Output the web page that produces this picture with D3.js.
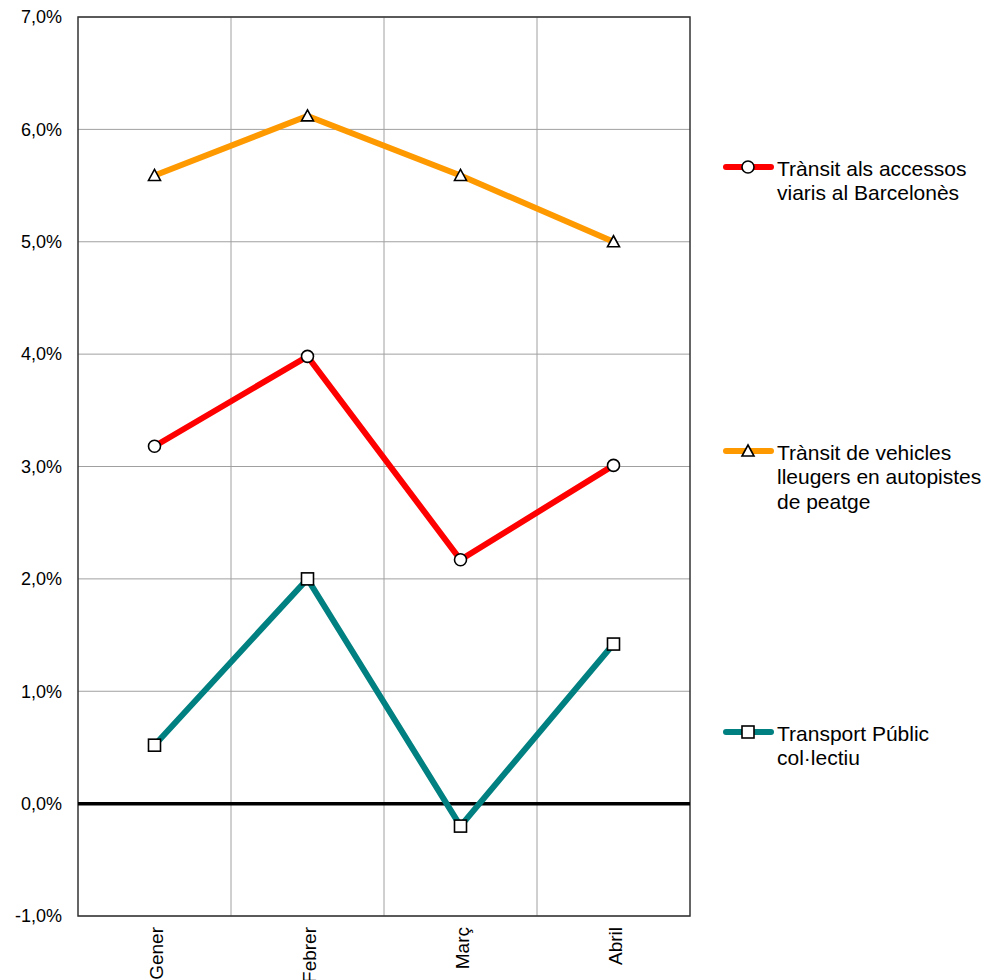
<!DOCTYPE html>
<html>
<head>
<meta charset="utf-8">
<script src="https://cdn.jsdelivr.net/npm/d3@7"></script>
<style>
  body { margin: 0; background: #fff; }
  svg { font-family: "Liberation Sans", Arial, sans-serif; }
</style>
</head>
<body>
<div id="chart"></div>
<script>
/* Variació mensual - trànsit i transport públic */

const months = ["Gener", "Febrer", "Març", "Abril"];
const accessos = [3.18, 3.98, 2.17, 3.01];
const autopistes = [5.59, 6.12, 5.59, 5.0];
const transport = [0.52, 2.0, -0.2, 1.42];
const yTicks = [-1, 0, 1, 2, 3, 4, 5, 6, 7];

const seriesNames = [
    ["Trànsit als accessos", "viaris al Barcelonès"],
    ["Trànsit de vehicles", "lleugers en autopistes", "de peatge"],
    ["Transport Públic", "col·lectiu"]
];

const width = 988, height = 980,
      margin = ({top: 17, right: 298, bottom: 64, left: 78});

let svg = d3.select("#chart")
    .append("svg")
    .attr("width", width)
    .attr("height", height)
    .attr("viewBox", [0, 0, width, height]);

let x = d3.scaleBand()
    .domain(months)
    .range([margin.left, width - margin.right]);

let y = d3.scaleLinear()
    .domain([-1, 7])
    .range([height - margin.bottom, margin.top]);

// grid lines
svg.append("g")
    .selectAll("line")
    .data(yTicks)
    .join("line")
    .attr("x1", margin.left)
    .attr("x2", width - margin.right)
    .attr("y1", d => y(d))
    .attr("y2", d => y(d))
    .attr("stroke", "#a0a0a0")
    .attr("stroke-width", 1);

svg.append("g")
    .selectAll("line")
    .data(months.slice(1))
    .join("line")
    .attr("x1", d => x(d))
    .attr("x2", d => x(d))
    .attr("y1", margin.top)
    .attr("y2", height - margin.bottom)
    .attr("stroke", "#a0a0a0")
    .attr("stroke-width", 1);

// plot frame
svg.append("rect")
    .attr("x", margin.left)
    .attr("y", margin.top)
    .attr("width", width - margin.left - margin.right)
    .attr("height", height - margin.top - margin.bottom)
    .attr("fill", "none")
    .attr("stroke", "#333")
    .attr("stroke-width", 1.5);

// zero line
svg.append("line")
    .attr("x1", margin.left)
    .attr("x2", width - margin.right)
    .attr("y1", y(0))
    .attr("y2", y(0))
    .attr("stroke", "#000")
    .attr("stroke-width", 3.5);

// y axis labels
const yAxis = g => g
    .attr("transform", `translate(${margin.left},0)`)
    .call(d3.axisLeft(y).tickValues(yTicks)
        .tickFormat(d => d3.format(".1f")(d).replace(".", ",").replace("−", "-") + "%")
        .tickSize(0).tickPadding(16))
    .call(g => g.select(".domain").remove())
    .call(g => g.selectAll("text")
        .attr("font-size", 18)
        .attr("font-family", "Liberation Sans, Arial, sans-serif")
        .attr("fill", "#000"));

svg.append("g").call(yAxis);

// x axis labels (rotated)
svg.append("g")
    .selectAll("text")
    .data(months)
    .join("text")
    .attr("transform", d => `translate(${x(d) + x.bandwidth() / 2 + 8},${height - margin.bottom + 11}) rotate(-90)`)
    .attr("text-anchor", "end")
    .attr("font-size", 19)
    .attr("fill", "#000")
    .text(d => d);

const series = [
    {values: accessos, color: "#ff0000", marker: "circle"},
    {values: autopistes, color: "#ff9900", marker: "triangle"},
    {values: transport, color: "#008080", marker: "square"}
];

const cx = d => x(d) + x.bandwidth() / 2;

const line = d3.line()
    .x((d, i) => cx(months[i]))
    .y(d => y(d));

function drawMarker(g, type) {
    if (type === "circle") {
        g.append("circle").attr("r", 6);
    } else if (type === "triangle") {
        g.append("path").attr("d", "M0,-6L6,5L-6,5Z");
    } else {
        g.append("rect").attr("x", -6).attr("y", -6).attr("width", 12).attr("height", 12);
    }
    g.selectAll("*")
        .attr("fill", "#fff")
        .attr("stroke", "#000")
        .attr("stroke-width", 1.6);
}

for (let s of series) {
    svg.append("path")
        .datum(s.values)
        .attr("d", line)
        .attr("fill", "none")
        .attr("stroke", s.color)
        .attr("stroke-width", 6)
        .attr("stroke-linejoin", "miter");

    svg.append("g")
        .selectAll("g")
        .data(s.values)
        .join("g")
        .attr("transform", (d, i) => `translate(${cx(months[i])},${y(d)})`)
        .each(function() { drawMarker(d3.select(this), s.marker); });
}

// legend
const legendY = [167, 451, 732];

series.forEach((s, i) => {
    let g = svg.append("g")
        .attr("transform", `translate(724,${legendY[i]})`);
    g.append("line")
        .attr("x1", 2).attr("x2", 47)
        .attr("y1", 0).attr("y2", 0)
        .attr("stroke", s.color)
        .attr("stroke-width", 6)
        .attr("stroke-linecap", "round");
    let m = g.append("g").attr("transform", "translate(24,0)");
    drawMarker(m, s.marker);
    g.append("text")
        .attr("font-size", 21)
        .attr("fill", "#000")
        .selectAll("tspan")
        .data(seriesNames[i])
        .join("tspan")
        .attr("x", 53)
        .attr("y", (d, j) => 8.5 + j * 24.5)
        .text(d => d);
});
</script>
</body>
</html>
